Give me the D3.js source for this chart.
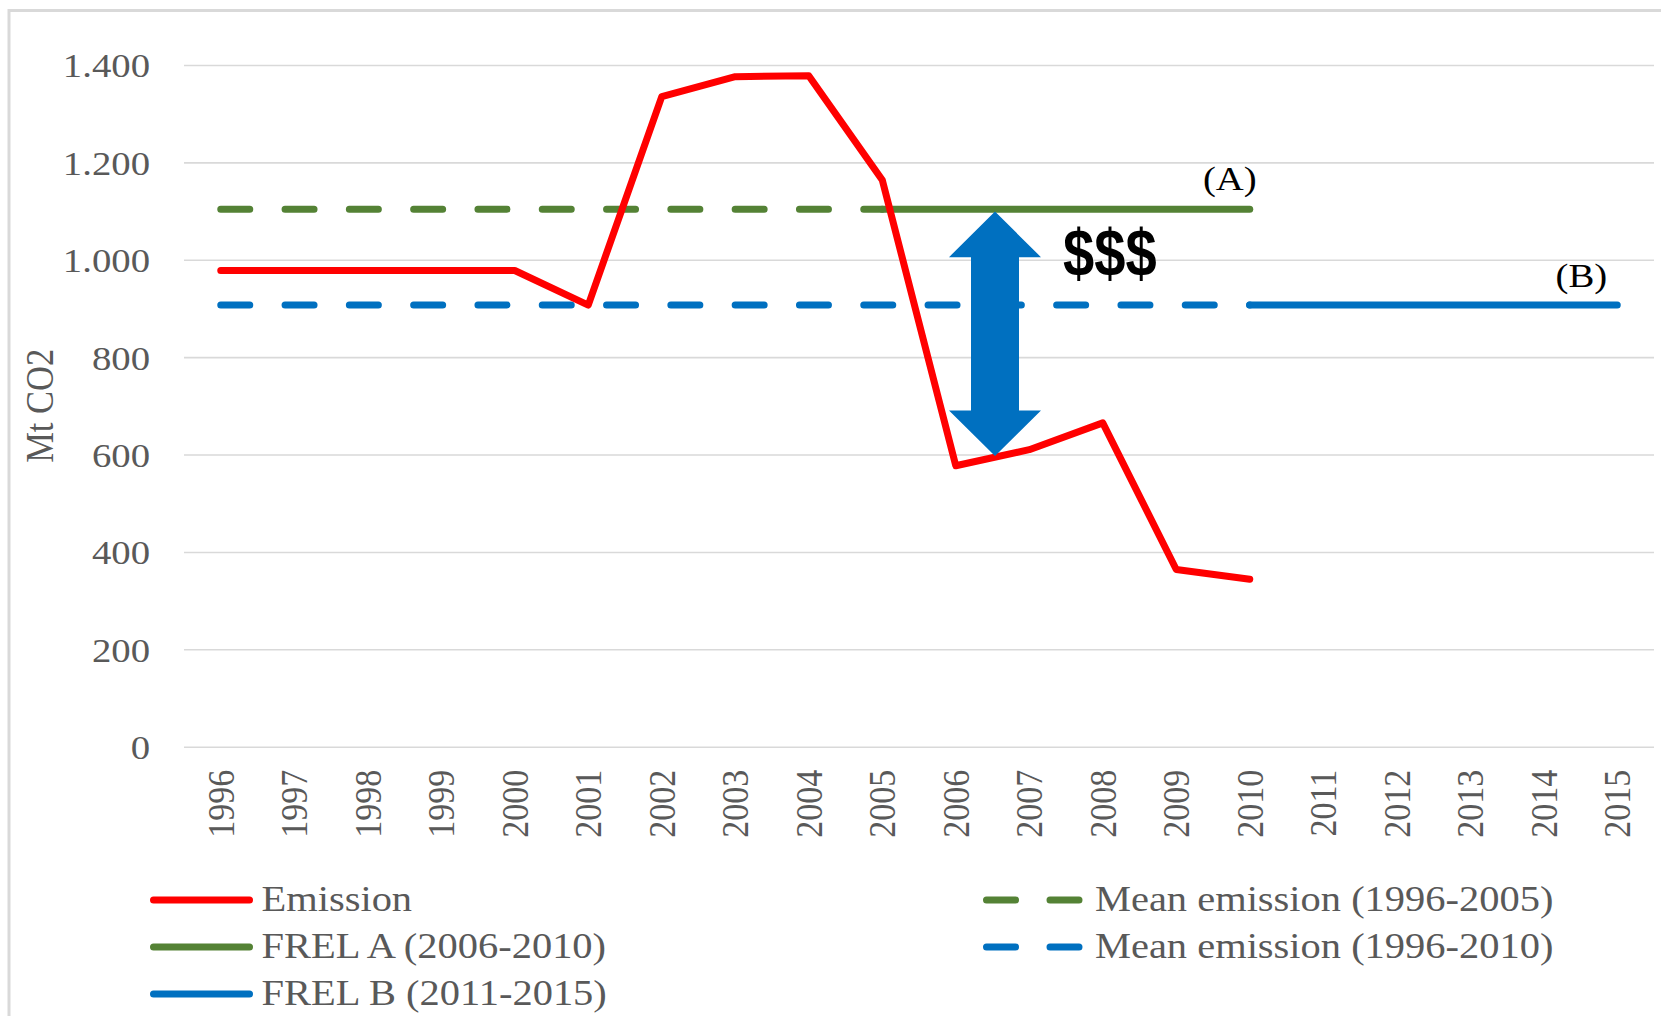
<!DOCTYPE html>
<html><head><meta charset="utf-8">
<script src="https://cdn.jsdelivr.net/npm/d3@7"></script>
<style>html,body{margin:0;padding:0;background:#fff;} svg{display:block;}</style>
</head><body>
<svg id="chart" width="1661" height="1016"></svg>
<script>
// ---------- data ----------
const years = ["1996","1997","1998","1999","2000","2001","2002","2003","2004","2005",
               "2006","2007","2008","2009","2010","2011","2012","2013","2014","2015"];
const emissionYears = ["1996","1997","1998","1999","2000","2001","2002","2003","2004","2005",
                       "2006","2007","2008","2009","2010"];
const emission = [978,978,978,978,978,907,1335,1376,1378,1164,577,610,665,364,344];
const meanA = 1104;                    // Mean emission (1996-2005) / FREL A
const meanAYears = ["1996","2005"];
const frelAYears = ["2005","2010"];
const meanB = 907;                     // Mean emission (1996-2010) / FREL B
const meanBYears = ["1996","2010"];
const frelBYears = ["2010","2015"];
const yTicks = [0,200,400,600,800,1000,1200,1400];
const legendLeft = ["Emission","FREL A (2006-2010)","FREL B (2011-2015)"];
const legendRight = ["Mean emission (1996-2005)","Mean emission (1996-2010)"];
const arrowYears = ["2006","2007"];    // arrow sits between these categories
const arrowRange = [1099, 597];        // from FREL A down to emission
const axisTitle = "Mt CO2";
const labelA = "(A)", labelB = "(B)", moneyLabel = "$$$";

// ---------- setup ----------
const W = 1661, H = 1016;
const SERIF = "'Liberation Serif','Times New Roman',serif";
const SX = 1.14;       // horizontal stretch of the original picture's text
const FS = 34;
const LFS = 35.5;      // legend font size
const GREEN = "#548235", BLUE = "#0070c0", RED = "#ff0000", GRAY = "#595959", GRID = "#d9d9d9";
const svg = d3.select("#chart");
svg.append("rect").attr("width", W).attr("height", H).attr("fill", "#fff");
svg.append("rect").attr("x", 9).attr("y", 10.5).attr("width", 1700).attr("height", 1100)
   .attr("fill", "none").attr("stroke", GRID).attr("stroke-width", 3);

const plot = {left: 184, right: 1654, top: 65, bottom: 746.7};
const x = d3.scaleBand().domain(years).range([plot.left, plot.right]).padding(0);
const y = d3.scaleLinear().domain([0, 1400]).range([plot.bottom, plot.top]);
const cx = d => x(d) + x.bandwidth() / 2;
const loc = d3.formatLocale({decimal: ",", thousands: ".", grouping: [3], currency: ["", ""]});
const fmt = loc.format(",d");

// gridlines + y labels
const yAxis = svg.append("g").attr("transform", `translate(${plot.left},0)`)
  .call(d3.axisLeft(y).tickValues(yTicks).tickSize(-(plot.right - plot.left)).tickFormat(fmt).tickPadding(0));
yAxis.select(".domain").remove();
yAxis.selectAll(".tick line").attr("stroke", GRID).attr("stroke-width", 1.6);
yAxis.selectAll(".tick text")
  .attr("x", -(plot.left - 150) / SX).attr("dy", "0.35em")
  .attr("transform", `scale(${SX},1)`)
  .attr("fill", GRAY).style("font-family", SERIF).style("font-size", FS + "px");

// x labels
const xAxis = svg.append("g").attr("transform", `translate(0,${plot.bottom})`)
  .call(d3.axisBottom(x).tickSize(0));
xAxis.select(".domain").remove();
xAxis.selectAll(".tick text")
  .attr("x", 0).attr("y", 0).attr("dy", "0.33em")
  .attr("text-anchor", "end")
  .attr("transform", `translate(0,23) scale(${SX},1) rotate(-90)`)
  .attr("fill", GRAY).style("font-family", SERIF).style("font-size", FS + "px");

// axis title
svg.append("text").text(axisTitle)
  .attr("transform", `translate(39,${(plot.top + plot.bottom) / 2}) scale(${SX},1) rotate(-90)`)
  .attr("text-anchor", "middle").attr("dy", "0.35em")
  .attr("fill", GRAY).style("font-family", SERIF).style("font-size", (FS + 0.5) + "px");

// ---------- lines ----------
const line = d3.line().x(d => cx(d.year)).y(d => y(d.value));
const flat = (yrs, v) => yrs.map(yr => ({year: yr, value: v}));
const DASH = "29,35.3";
const g = svg.append("g").attr("fill", "none").attr("stroke-width", 7).attr("stroke-linecap", "round");
g.append("path").attr("d", line(flat(meanAYears, meanA))).attr("stroke", GREEN).attr("stroke-dasharray", DASH);
g.append("path").attr("d", line(flat(frelAYears, meanA))).attr("stroke", GREEN);
g.append("path").attr("d", line(flat(meanBYears, meanB))).attr("stroke", BLUE).attr("stroke-dasharray", DASH);
g.append("path").attr("d", line(flat(frelBYears, meanB))).attr("stroke", BLUE);
g.append("path").attr("d", line(emissionYears.map((yr, i) => ({year: yr, value: emission[i]}))))
  .attr("stroke", RED).attr("stroke-linejoin", "round");

// ---------- annotations ----------
const ax = (cx(arrowYears[0]) + cx(arrowYears[1])) / 2 + 2.5;
const yT = y(arrowRange[0]), yB = y(arrowRange[1]);
const headL = 45.6, headW = 46, shaftW = 24;
const arrowPts = [
  [ax, yT], [ax + headW, yT + headL], [ax + shaftW, yT + headL],
  [ax + shaftW, yB - headL], [ax + headW, yB - headL], [ax, yB],
  [ax - headW, yB - headL], [ax - shaftW, yB - headL], [ax - shaftW, yT + headL],
  [ax - headW, yT + headL]
];
svg.append("path").attr("d", d3.line()(arrowPts) + "Z").attr("fill", BLUE);

svg.append("text").text(moneyLabel)
  .attr("transform", `translate(${ax + 68},${y(meanA) + 67}) scale(0.85,1)`)
  .attr("fill", "#000").style("font-family", "'Liberation Sans',Arial,sans-serif")
  .style("font-weight", "bold").style("font-size", "66px");

svg.append("text").text(labelA)
  .attr("transform", `translate(${cx("2010") + 7},${y(meanA) - 19}) scale(${SX},1)`)
  .attr("text-anchor", "end").attr("fill", "#000")
  .style("font-family", SERIF).style("font-size", FS + "px");
svg.append("text").text(labelB)
  .attr("transform", `translate(${cx("2015") - 10},${y(meanB) - 18}) scale(${SX},1)`)
  .attr("text-anchor", "end").attr("fill", "#000")
  .style("font-family", SERIF).style("font-size", FS + "px");

// ---------- legend ----------
const legRowY = [900, 947, 994];
const leftColors = [RED, GREEN, BLUE];
const rightColors = [GREEN, BLUE];
const lg = svg.append("g");
legendLeft.forEach((t, i) => {
  lg.append("line").attr("x1", 153.5).attr("x2", 249.5).attr("y1", legRowY[i]).attr("y2", legRowY[i])
    .attr("stroke", leftColors[i]).attr("stroke-width", 7).attr("stroke-linecap", "round");
  lg.append("text").text(t)
    .attr("transform", `translate(261.5,${legRowY[i] + 10.5}) scale(${SX},1)`)
    .attr("fill", GRAY).style("font-family", SERIF).style("font-size", LFS + "px");
});
legendRight.forEach((t, i) => {
  lg.append("line").attr("x1", 986.5).attr("x2", 1079.5).attr("y1", legRowY[i]).attr("y2", legRowY[i])
    .attr("stroke", rightColors[i]).attr("stroke-width", 7).attr("stroke-linecap", "round")
    .attr("stroke-dasharray", "29,34.5");
  lg.append("text").text(t)
    .attr("transform", `translate(1095,${legRowY[i] + 10.5}) scale(${SX},1)`)
    .attr("fill", GRAY).style("font-family", SERIF).style("font-size", LFS + "px");
});
</script>
</body></html>
